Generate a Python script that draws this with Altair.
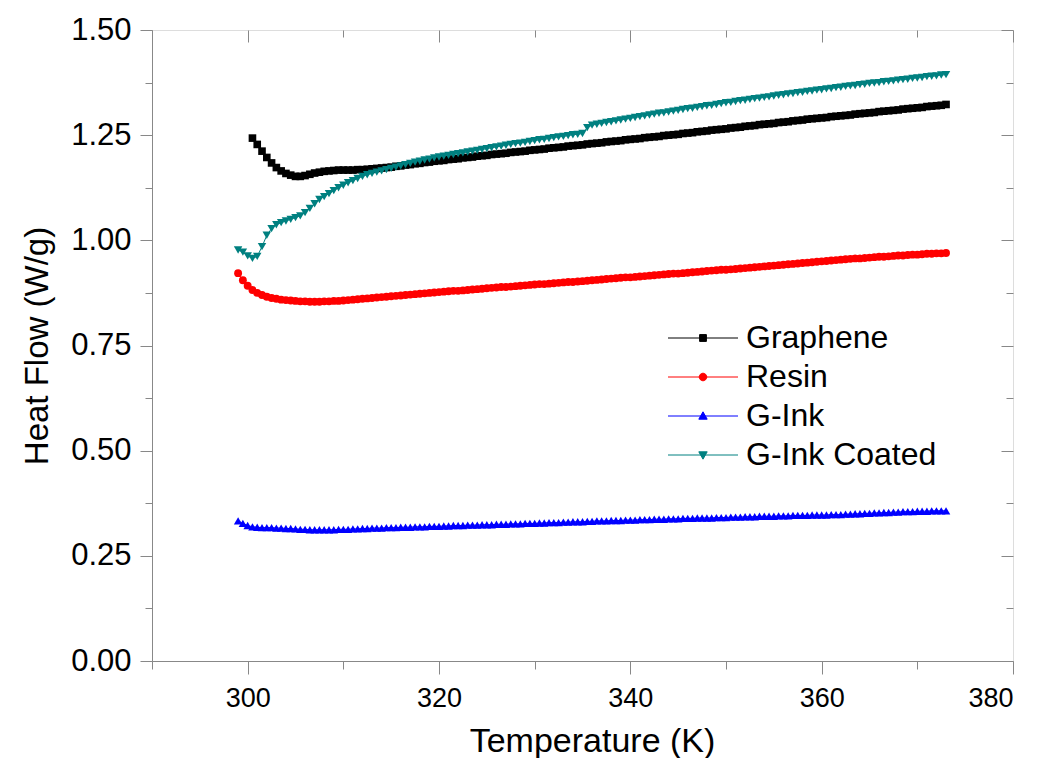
import altair as alt
import pandas as pd

SERIES = ["Graphene", "Resin", "G-Ink", "G-Ink Coated"]
COLORS = ["#000000", "#ff0000", "#0000ff", "#008080"]
SHAPES = ["square", "circle", "triangle-up", "triangle-down"]
SIZES = [58, 62, 72, 72]

X_MAJOR = [300, 320, 340, 360, 380]
X_MINOR = [290, 310, 330, 350, 370]
Y_MAJOR = [0.0, 0.25, 0.5, 0.75, 1.0, 1.25, 1.5]
Y_MINOR = [0.125, 0.375, 0.625, 0.875, 1.125, 1.375]

T_FULL = [
    299.0, 299.5, 300.0, 300.5, 301.0, 301.5, 302.0, 302.5, 303.0, 303.5,
    304.0, 304.5, 305.0, 305.5, 306.0, 306.5, 307.0, 307.5, 308.0, 308.5,
    309.0, 309.5, 310.0, 310.5, 311.0, 311.5, 312.0, 312.5, 313.0, 313.5,
    314.0, 314.5, 315.0, 315.5, 316.0, 316.5, 317.0, 317.5, 318.0, 318.5,
    319.0, 319.5, 320.0, 320.5, 321.0, 321.5, 322.0, 322.5, 323.0, 323.5,
    324.0, 324.5, 325.0, 325.5, 326.0, 326.5, 327.0, 327.5, 328.0, 328.5,
    329.0, 329.5, 330.0, 330.5, 331.0, 331.5, 332.0, 332.5, 333.0, 333.5,
    334.0, 334.5, 335.0, 335.5, 336.0, 336.5, 337.0, 337.5, 338.0, 338.5,
    339.0, 339.5, 340.0, 340.5, 341.0, 341.5, 342.0, 342.5, 343.0, 343.5,
    344.0, 344.5, 345.0, 345.5, 346.0, 346.5, 347.0, 347.5, 348.0, 348.5,
    349.0, 349.5, 350.0, 350.5, 351.0, 351.5, 352.0, 352.5, 353.0, 353.5,
    354.0, 354.5, 355.0, 355.5, 356.0, 356.5, 357.0, 357.5, 358.0, 358.5,
    359.0, 359.5, 360.0, 360.5, 361.0, 361.5, 362.0, 362.5, 363.0, 363.5,
    364.0, 364.5, 365.0, 365.5, 366.0, 366.5, 367.0, 367.5, 368.0, 368.5,
    369.0, 369.5, 370.0, 370.5, 371.0, 371.5, 372.0, 372.5, 373.0,
]
T_GRAPHENE = T_FULL[3:]

HF_GRAPHENE = [
    1.243, 1.228, 1.212, 1.197, 1.184, 1.173, 1.165, 1.159, 1.155, 1.152,
    1.152, 1.154, 1.157, 1.160, 1.162, 1.164, 1.165, 1.166, 1.167, 1.167,
    1.167, 1.167, 1.168, 1.168, 1.169, 1.170, 1.171, 1.172, 1.173, 1.174,
    1.176, 1.177, 1.179, 1.180, 1.182, 1.183, 1.185, 1.186, 1.188, 1.189,
    1.190, 1.192, 1.193, 1.194, 1.196, 1.197, 1.198, 1.200, 1.201, 1.202,
    1.204, 1.205, 1.206, 1.207, 1.209, 1.210, 1.211, 1.212, 1.214, 1.215,
    1.216, 1.217, 1.219, 1.220, 1.221, 1.222, 1.224, 1.225, 1.226, 1.227,
    1.229, 1.230, 1.231, 1.232, 1.234, 1.235, 1.236, 1.237, 1.239, 1.240,
    1.241, 1.242, 1.244, 1.245, 1.246, 1.247, 1.249, 1.250, 1.251, 1.252,
    1.254, 1.255, 1.256, 1.258, 1.259, 1.260, 1.262, 1.263, 1.264, 1.265,
    1.267, 1.268, 1.269, 1.271, 1.272, 1.273, 1.275, 1.276, 1.277, 1.278,
    1.280, 1.281, 1.282, 1.284, 1.285, 1.286, 1.288, 1.289, 1.290, 1.291,
    1.292, 1.294, 1.295, 1.296, 1.297, 1.298, 1.300, 1.301, 1.302, 1.303,
    1.304, 1.306, 1.307, 1.308, 1.309, 1.310, 1.312, 1.313, 1.314, 1.315,
    1.316, 1.318, 1.319, 1.320, 1.321, 1.323,
]

HF_RESIN = [
    0.922, 0.905, 0.892, 0.882, 0.875, 0.870, 0.866, 0.863, 0.861, 0.859,
    0.858, 0.857, 0.856, 0.855, 0.855, 0.854, 0.854, 0.854, 0.855, 0.855,
    0.856, 0.856, 0.857, 0.858, 0.859, 0.860, 0.861, 0.862, 0.863, 0.864,
    0.865, 0.866, 0.867, 0.868, 0.869, 0.870, 0.871, 0.872, 0.873, 0.874,
    0.875, 0.876, 0.877, 0.878, 0.879, 0.880, 0.880, 0.881, 0.882, 0.883,
    0.884, 0.885, 0.886, 0.887, 0.888, 0.889, 0.889, 0.890, 0.891, 0.892,
    0.893, 0.894, 0.895, 0.896, 0.896, 0.897, 0.898, 0.899, 0.900, 0.901,
    0.901, 0.902, 0.903, 0.904, 0.905, 0.906, 0.907, 0.908, 0.909, 0.910,
    0.911, 0.912, 0.912, 0.913, 0.914, 0.915, 0.916, 0.917, 0.918, 0.919,
    0.920, 0.921, 0.921, 0.922, 0.923, 0.924, 0.925, 0.926, 0.927, 0.928,
    0.929, 0.930, 0.930, 0.931, 0.932, 0.933, 0.934, 0.935, 0.936, 0.937,
    0.938, 0.939, 0.940, 0.941, 0.942, 0.943, 0.944, 0.945, 0.946, 0.947,
    0.948, 0.949, 0.950, 0.951, 0.952, 0.953, 0.954, 0.955, 0.956, 0.957,
    0.957, 0.958, 0.959, 0.960, 0.961, 0.961, 0.962, 0.963, 0.964, 0.964,
    0.965, 0.966, 0.966, 0.967, 0.968, 0.968, 0.969, 0.969, 0.970,
]

HF_GINK = [
    0.333, 0.327, 0.322, 0.319, 0.318, 0.317, 0.317, 0.317, 0.316, 0.316,
    0.315, 0.315, 0.314, 0.313, 0.313, 0.312, 0.312, 0.312, 0.312, 0.312,
    0.312, 0.313, 0.313, 0.313, 0.314, 0.314, 0.315, 0.315, 0.316, 0.316,
    0.316, 0.317, 0.317, 0.317, 0.318, 0.318, 0.318, 0.319, 0.319, 0.319,
    0.320, 0.320, 0.320, 0.321, 0.321, 0.322, 0.322, 0.322, 0.323, 0.323,
    0.323, 0.324, 0.324, 0.324, 0.325, 0.325, 0.325, 0.326, 0.326, 0.326,
    0.327, 0.327, 0.327, 0.328, 0.328, 0.329, 0.329, 0.329, 0.330, 0.330,
    0.331, 0.331, 0.331, 0.332, 0.332, 0.333, 0.333, 0.333, 0.334, 0.334,
    0.334, 0.335, 0.335, 0.335, 0.336, 0.336, 0.336, 0.337, 0.337, 0.337,
    0.338, 0.338, 0.338, 0.339, 0.339, 0.339, 0.340, 0.340, 0.340, 0.340,
    0.341, 0.341, 0.341, 0.342, 0.342, 0.342, 0.343, 0.343, 0.343, 0.344,
    0.344, 0.344, 0.344, 0.345, 0.345, 0.345, 0.346, 0.346, 0.346, 0.346,
    0.347, 0.347, 0.347, 0.347, 0.348, 0.348, 0.348, 0.349, 0.349, 0.350,
    0.350, 0.351, 0.351, 0.352, 0.352, 0.353, 0.353, 0.354, 0.354, 0.355,
    0.355, 0.355, 0.356, 0.356, 0.356, 0.357, 0.357, 0.357, 0.357,
]

HF_GINK_COATED = [
    0.977, 0.972, 0.963, 0.957, 0.962, 0.985, 1.012, 1.028, 1.037, 1.042,
    1.046, 1.050, 1.054, 1.058, 1.066, 1.076, 1.087, 1.097, 1.104, 1.111,
    1.118, 1.125, 1.131, 1.137, 1.142, 1.147, 1.152, 1.156, 1.159, 1.162,
    1.165, 1.168, 1.171, 1.174, 1.177, 1.180, 1.183, 1.186, 1.188, 1.191,
    1.193, 1.196, 1.198, 1.200, 1.202, 1.204, 1.206, 1.208, 1.210, 1.212,
    1.214, 1.216, 1.218, 1.220, 1.222, 1.224, 1.226, 1.228, 1.230, 1.231,
    1.233, 1.235, 1.237, 1.239, 1.240, 1.242, 1.244, 1.246, 1.247, 1.249,
    1.251, 1.252, 1.254, 1.268, 1.274, 1.276, 1.278, 1.280, 1.282, 1.284,
    1.286, 1.288, 1.290, 1.292, 1.294, 1.296, 1.298, 1.300, 1.302, 1.303,
    1.305, 1.307, 1.309, 1.311, 1.313, 1.314, 1.316, 1.318, 1.320, 1.321,
    1.323, 1.325, 1.327, 1.328, 1.330, 1.332, 1.333, 1.335, 1.337, 1.338,
    1.340, 1.341, 1.343, 1.345, 1.346, 1.348, 1.349, 1.351, 1.352, 1.354,
    1.355, 1.357, 1.358, 1.360, 1.361, 1.363, 1.364, 1.366, 1.367, 1.368,
    1.370, 1.371, 1.373, 1.374, 1.375, 1.377, 1.378, 1.379, 1.381, 1.382,
    1.383, 1.385, 1.386, 1.387, 1.389, 1.390, 1.391, 1.393, 1.394,
]

rows = []
for name, ts, vs in [
    ("Graphene", T_GRAPHENE, HF_GRAPHENE),
    ("Resin", T_FULL, HF_RESIN),
    ("G-Ink", T_FULL, HF_GINK),
    ("G-Ink Coated", T_FULL, HF_GINK_COATED),
]:
    for t, v in zip(ts, vs):
        rows.append({"T": t, "HF": v, "series": name})
df = pd.DataFrame(rows)

FONT = "Liberation Sans"
W, H = 861, 631

x_scale = alt.Scale(domain=[290, 380], nice=False, zero=False)
y_scale = alt.Scale(domain=[0, 1.5], nice=False, zero=False)
color_scale = alt.Scale(domain=SERIES, range=COLORS)

# legend symbol = short line + marker (custom paths)
LEG_PATHS = [
    "M-8.75,0H8.75M-0.85,-0.85H0.85V0.85H-0.85Z",
    "M-8.75,0H8.75M-0.95,0A0.95,0.95,0,1,0,0.95,0A0.95,0.95,0,1,0,-0.95,0Z",
    "M-8.75,0H8.75M0,-1.05L1.05,0.8H-1.05Z",
    "M-8.75,0H8.75M0,1.05L1.05,-0.8H-1.05Z",
]

x_main = alt.X(
    "T:Q", scale=x_scale,
    axis=alt.Axis(values=X_MAJOR, title="Temperature (K)", orient="bottom",
                  tickSize=13, labelFontSize=27, titleFontSize=34, titleX=440,
                  labelPadding=11, titlePadding=13, labelFont=FONT, titleFont=FONT,
                  titleFontWeight="normal", grid=False),
)
y_main = alt.Y(
    "HF:Q", scale=y_scale,
    axis=alt.Axis(values=Y_MAJOR, format=".2f", title="Heat Flow (W/g)", orient="left",
                  tickSize=12, labelFontSize=31, titleFontSize=33,
                  labelPadding=9, titlePadding=16, labelFont=FONT, titleFont=FONT,
                  titleFontWeight="normal", grid=False),
)

base = alt.Chart(df)

lines = base.mark_line(strokeWidth=1).encode(
    x=x_main, y=y_main,
    color=alt.Color("series:N", scale=color_scale, legend=None),
)

point_layers = []
for name, shp, sz in zip(SERIES, SHAPES, SIZES):
    point_layers.append(
        base.transform_filter(alt.datum.series == name)
        .mark_point(filled=True, size=sz, opacity=1, shape=shp)
        .encode(
            x=x_main, y=y_main,
            color=alt.Color("series:N", scale=color_scale, legend=None),
        )
    )

data_group = alt.layer(lines, *point_layers)

leg = alt.Legend(
    orient="none", legendX=535, legendY=292, title=None,
    labelFontSize=32, labelFont=FONT, labelColor="black", labelLimit=600,
    symbolSize=64, symbolStrokeWidth=1, labelOffset=27,
    rowPadding=7, padding=0,
)
legend_layer = base.transform_filter("datum.T < 0").mark_point(
    filled=True, size=64, strokeWidth=1, opacity=1
).encode(
    x=alt.X("T:Q", scale=x_scale, axis=None),
    y=alt.Y("HF:Q", scale=y_scale, axis=None),
    fill=alt.Fill("series:N", scale=alt.Scale(domain=SERIES, range=COLORS), legend=leg),
    stroke=alt.Stroke("series:N", scale=alt.Scale(domain=SERIES, range=COLORS), legend=leg),
    shape=alt.Shape("series:N", scale=alt.Scale(domain=SERIES, range=LEG_PATHS), legend=leg),
)


def tick_layer(xvals, yvals, xsize, ysize, x_orient, y_orient, x_off, y_off):
    return base.mark_point(opacity=0).encode(
        x=alt.X("T:Q", scale=x_scale,
                axis=alt.Axis(values=xvals, labels=False, tickSize=xsize, domain=False,
                              title=None, grid=False, orient=x_orient, offset=x_off)),
        y=alt.Y("HF:Q", scale=y_scale,
                axis=alt.Axis(values=yvals, labels=False, tickSize=ysize, domain=False,
                              title=None, grid=False, orient=y_orient, offset=y_off)),
    )


minor_layer = tick_layer(X_MINOR, Y_MINOR, 8, 7, "bottom", "left", 0, 0)
top_right_major = tick_layer(X_MAJOR, Y_MAJOR, 12, 12, "bottom", "left", -H, -W)
top_right_minor = tick_layer(X_MINOR, Y_MINOR, 7, 7, "bottom", "left", -H, -W)

chart = alt.layer(
    data_group, minor_layer, top_right_major, top_right_minor, legend_layer
).resolve_scale(
    x="independent", y="independent",
    fill="independent", stroke="independent", shape="independent",
).resolve_legend(
    fill="independent", stroke="independent", shape="independent",
).properties(
    width=W, height=H,
    autosize=alt.AutoSizeParams(type="none"),
    padding={"left": 144, "top": 22, "right": 19, "bottom": 97},
).configure_axis(
    domainColor="black", tickColor="black", domainWidth=1.6, tickWidth=1.6,
    labelColor="black", titleColor="black",
).configure_view(
    stroke="black", strokeWidth=1.6
).configure(background="white")

chart.save("out.html", embed_options={"renderer": "svg", "actions": False})
